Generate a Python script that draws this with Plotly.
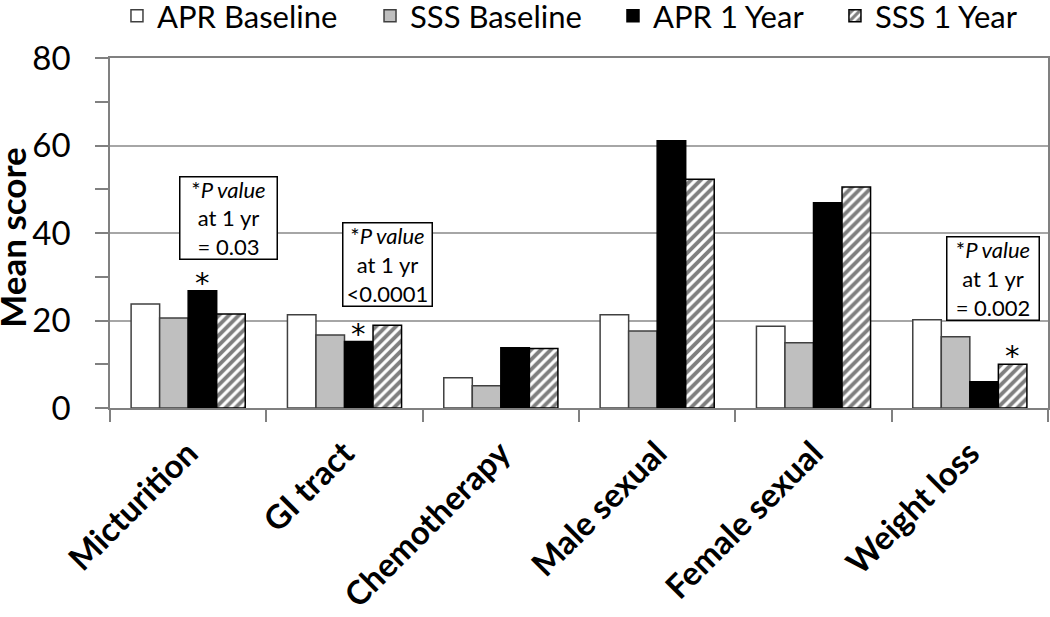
import plotly.graph_objects as go

# categories and series (mean scores)
categories = ['Micturition', 'GI tract', 'Chemotherapy', 'Male sexual', 'Female sexual', 'Weight loss']
apr_baseline = [23.8, 21.3, 6.9, 21.3, 18.7, 20.2]
sss_baseline = [20.6, 16.7, 5.1, 17.6, 14.9, 16.3]
apr_1yr = [26.8, 15.2, 13.8, 61.1, 46.9, 6.0]
sss_1yr = [21.5, 18.9, 13.6, 52.3, 50.5, 10.0]

# significance markers (* above the 1-year bars)
apr_1yr_marks = ['*', '*', '', '', '', '']
sss_1yr_marks = ['', '', '', '', '', '*']

# p-value notes
note_text = [
    '*<i>P value</i><br>at 1 yr<br>= 0.03',
    '*<i>P value</i><br>at 1 yr<br>&lt;0.0001',
    '*<i>P value</i><br>at 1 yr<br>= 0.002',
]

FONT = 'Lato'
W, H = 1050, 617
M = dict(l=110, r=2, t=58, b=209)
BARGAP = 0.27
edge = dict(color='#404040', width=1.5)

fig = go.Figure()
fig.add_trace(go.Bar(x=categories, y=apr_baseline, name='APR Baseline', legend='legend',
                     marker=dict(color='white', line=edge)))
fig.add_trace(go.Bar(x=categories, y=sss_baseline, name='SSS Baseline', legend='legend2',
                     marker=dict(color='#BFBFBF', line=edge)))
fig.add_trace(go.Bar(x=categories, y=apr_1yr, name='APR 1 Year', legend='legend3',
                     marker=dict(color='black', line=dict(color='black', width=1.5))))
fig.add_trace(go.Bar(x=categories, y=sss_1yr, name='SSS 1 Year', legend='legend4',
                     marker=dict(color='white', line=dict(color='black', width=1.5),
                                 pattern=dict(shape='/', fgcolor='black', bgcolor='white',
                                              size=7, solidity=0.55))))

# asterisks sit above the matching bar within each group
bar_px = (W - M['l'] - M['r']) / len(categories) * (1 - BARGAP) / 4
for slot, (vals, marks) in ((2, (apr_1yr, apr_1yr_marks)), (3, (sss_1yr, sss_1yr_marks))):
    for cat, v, m in zip(categories, vals, marks):
        if m:
            fig.add_annotation(x=cat, y=v, xref='x', yref='y', text=m, showarrow=False,
                               xanchor='center', yanchor='bottom',
                               xshift=(slot - 1.5) * bar_px, yshift=-11,
                               font=dict(size=29, color='black', family='DejaVu Sans'))

# box placement: (paper x, data y, inner width, inner height)
note_place = [(0.126, 43.5, 94, 79), (0.296, 32.7, 86, 80), (0.941, 29.7, 89, 80)]
for label, (nx, ny, w, h) in zip(note_text, note_place):
    fig.add_annotation(x=nx, y=ny, xref='paper', yref='y', xanchor='center', yanchor='middle',
                       text=label, showarrow=False, width=w, height=h, align='center',
                       font=dict(size=22, color='black', family=FONT),
                       bordercolor='black', borderwidth=1.5, borderpad=1, bgcolor='white')

# y-axis title drawn as a rotated annotation
fig.add_annotation(x=-0.1045, y=0.489, xref='paper', yref='paper', xanchor='center',
                   yanchor='middle', text='<b>Mean score</b>', textangle=-90, showarrow=False,
                   font=dict(size=35, color='black', family=FONT))

# one legend per entry so each sits where the original puts it
legend_style = dict(orientation='h', xanchor='left', y=1.197, yanchor='top',
                    xref='container', yref='paper', font=dict(size=31, family=FONT),
                    bgcolor='rgba(0,0,0,0)', itemwidth=30)

fig.update_layout(
    width=W, height=H,
    margin=dict(**M, autoexpand=False),
    plot_bgcolor='white', paper_bgcolor='white',
    barmode='group', bargap=BARGAP, bargroupgap=0,
    font=dict(family=FONT, color='black'),
    showlegend=True,
    legend=dict(x=0.1114, **legend_style),
    legend2=dict(x=0.3524, **legend_style),
    legend3=dict(x=0.5838, **legend_style),
    legend4=dict(x=0.7952, **legend_style),
)

fig.update_xaxes(
    type='category', tickangle=-45, tickson='boundaries', ticks='outside', ticklen=12,
    tickcolor='#808080', tickwidth=1.5, automargin=False, ticklabelstandoff=11,
    tickfont=dict(size=33, family=FONT, weight='bold'),
    showline=True, linecolor='#808080', linewidth=1.5, mirror=True, showgrid=False,
)
fig.update_yaxes(
    range=[0, 80], dtick=20, ticks='outside', ticklen=13, tickcolor='#808080', tickwidth=1.5,
    minor=dict(dtick=10, ticks='outside', ticklen=13, tickcolor='#808080', showgrid=False),
    tickfont=dict(size=33, family=FONT), automargin=False, ticklabelstandoff=18,
    showgrid=True, gridcolor='#A6A6A6', gridwidth=1.5,
    showline=True, linecolor='#808080', linewidth=1.5, mirror=True, zeroline=False,
)

# drop the default page margin so the figure sits at the window origin
fig.write_html('out.html', config={'displayModeBar': False},
               post_script="document.body.style.margin='0';")
